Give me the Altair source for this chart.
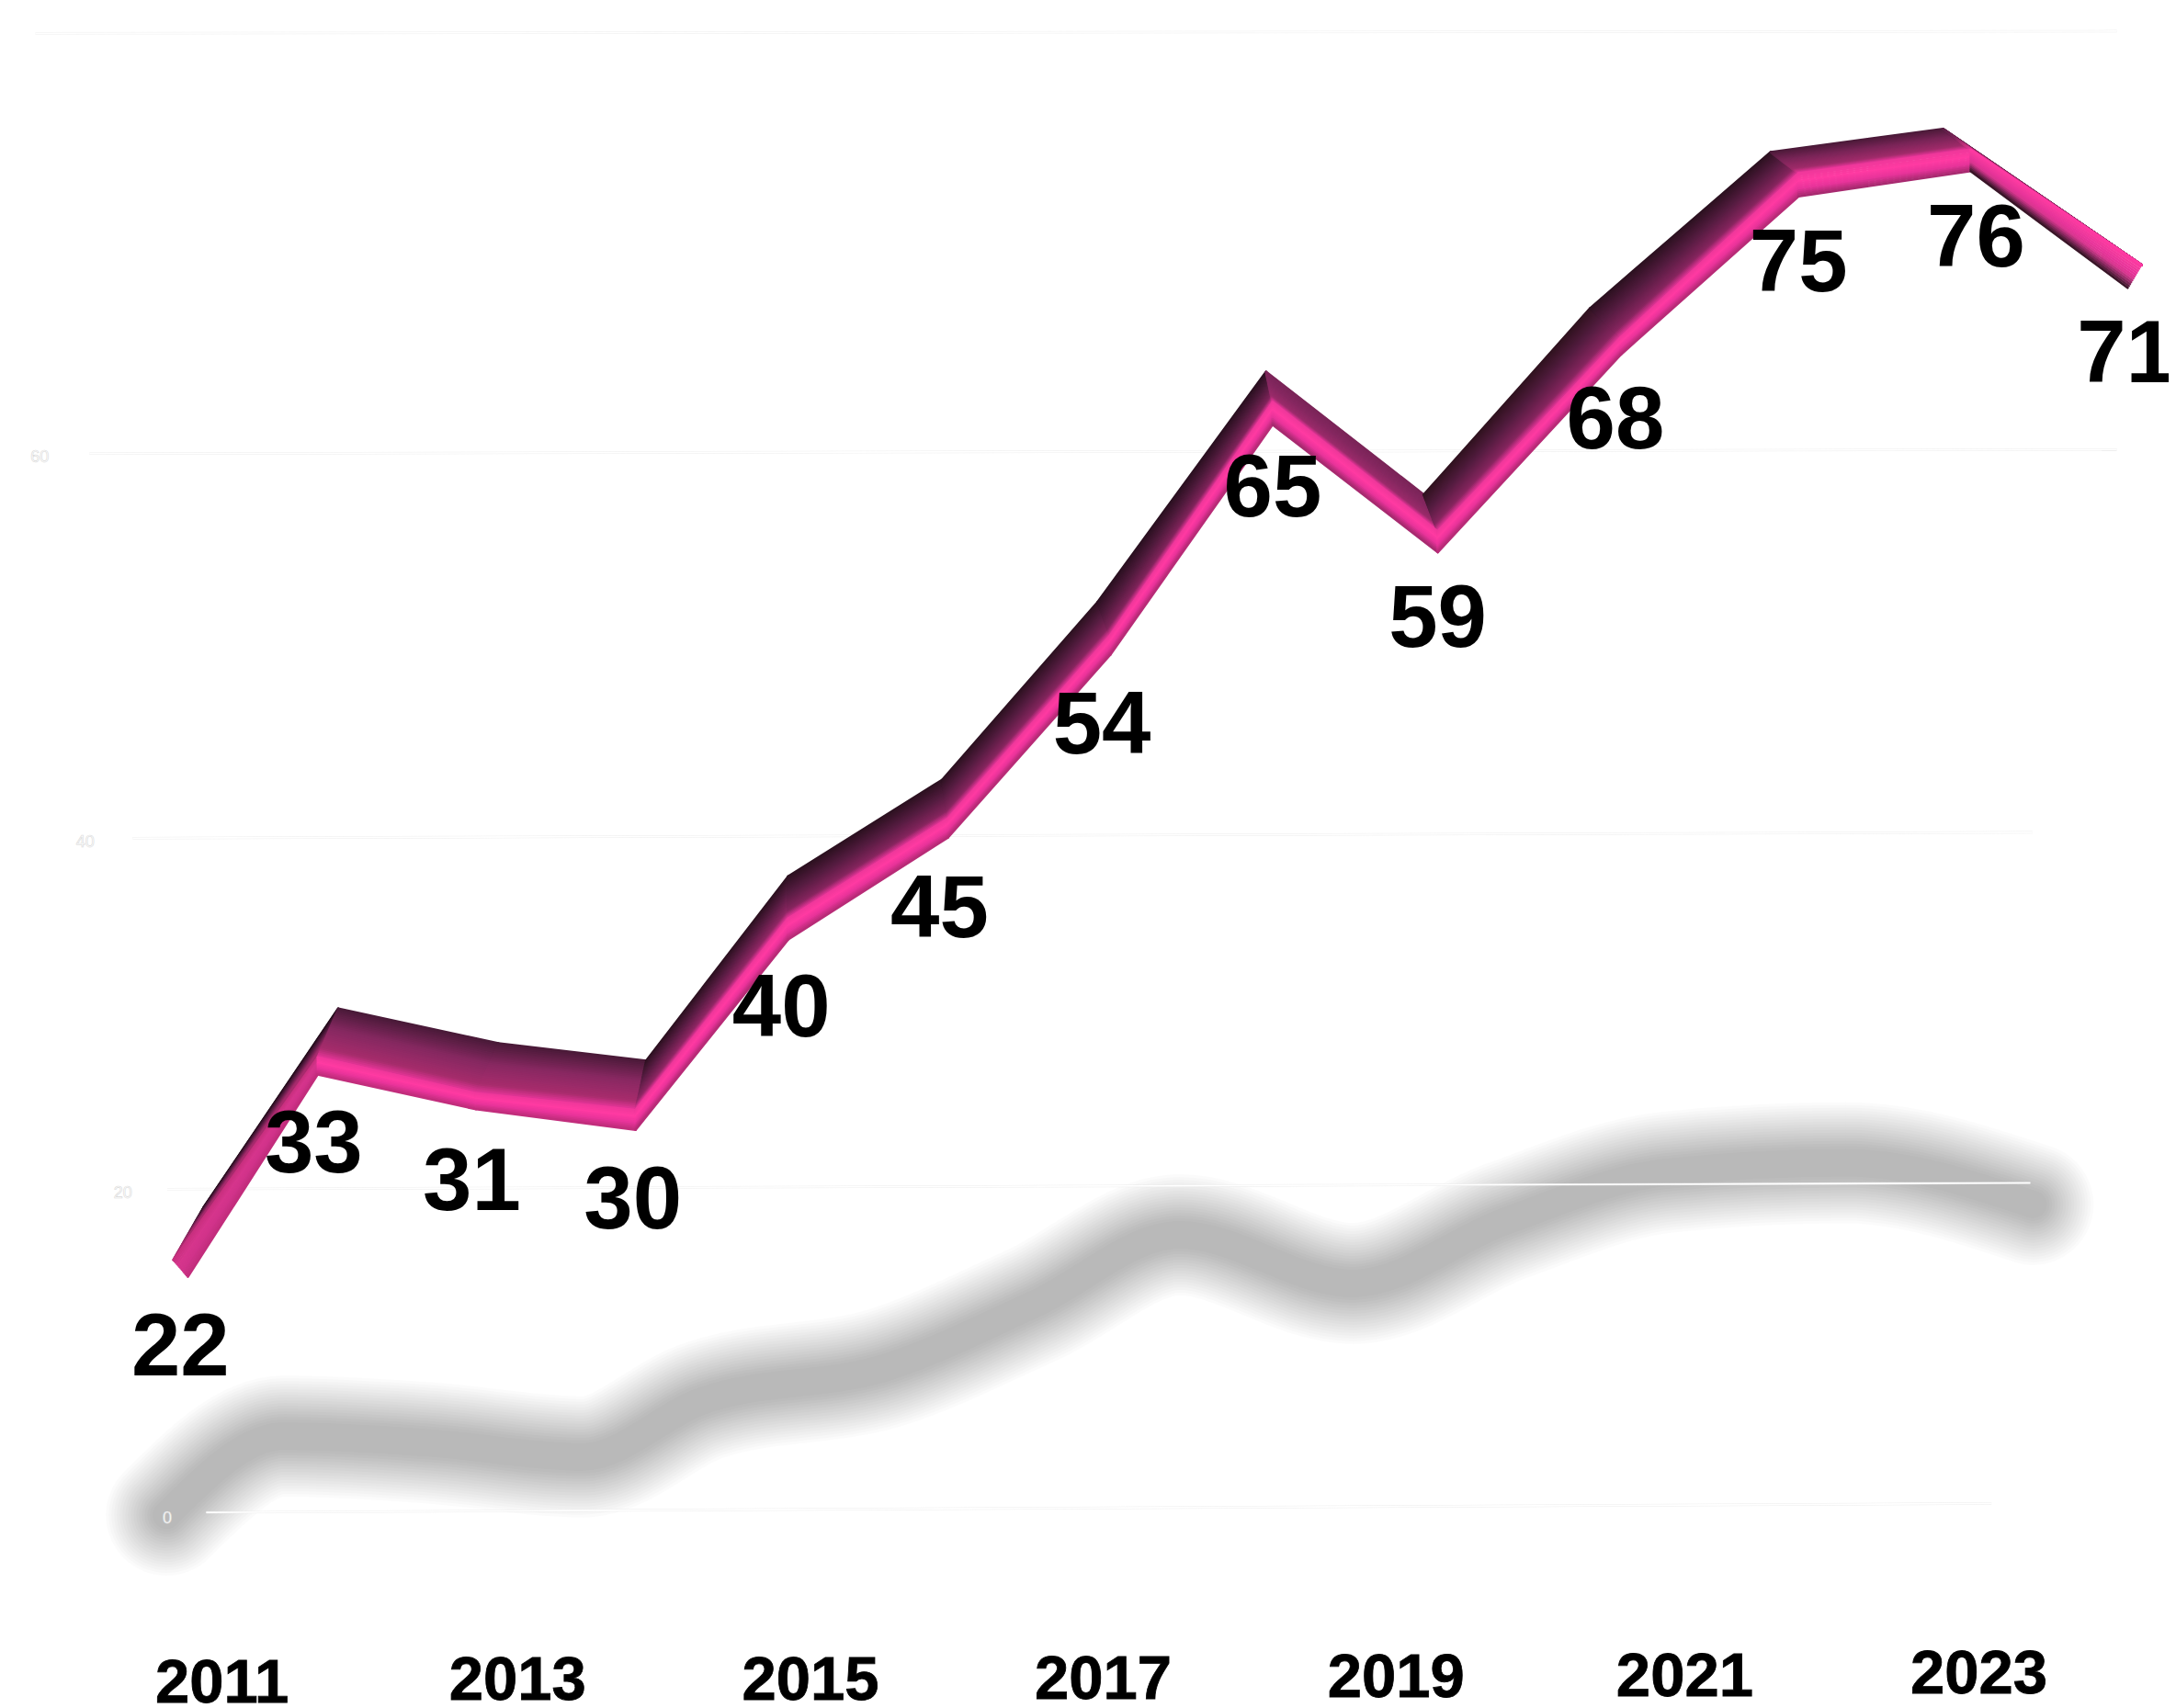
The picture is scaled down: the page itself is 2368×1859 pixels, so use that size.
import altair as alt
import pandas as pd

# ---- what the chart says
years = [2011, 2012, 2013, 2014, 2015, 2016, 2017, 2018, 2019, 2020, 2021, 2022, 2023]
values = [22, 33, 31, 30, 40, 45, 54, 65, 59, 68, 75, 76, 71]
axis_years = [2011, 2013, 2015, 2017, 2019, 2021, 2023]
grid_values = [0, 20, 40, 60, 80]
grid_labels = [0, 20, 40, 60]

# ---- ribbon depth, in data units
back_year = [0.21, 0.13, 0.14, 0.07, 0.0, -0.035, -0.077, -0.04, -0.084, -0.167, -0.156, -0.16, 0.0]
back_value = [2.8, 2.45, 2.7, 2.8, 2.1, 1.9, 1.6, 1.4, 1.7, 1.2, 0.9, 0.88, 0.0]
face_year = [0.1, 0, 0, 0, 0, 0, 0, 0, 0, 0, 0, 0, -0.08]
face_value = [0.9, 0.95, 0.95, 1.05, 1.05, 0.95, 0.95, 1.03, 1.0, 0.8, 1.0, 0.9, 0.95]

# top face colours per segment: back edge, middle, front edge
top_colours = [
    ("#1f0b18", "#5a1d44", "#a82c6e"),
    ("#491a38", "#852860", "#a62c6c"),
    ("#4a1a38", "#882861", "#a82c6d"),
    ("#2c1120", "#5a1d44", "#8f2764"),
    ("#2c1120", "#541c40", "#86255e"),
    ("#2c1120", "#541c40", "#86255e"),
    ("#2a1020", "#4f1b3c", "#7f245a"),
    ("#7a2558", "#852860", "#9a2b6a"),
    ("#30121f", "#541c40", "#86255e"),
    ("#2c1120", "#541c40", "#86255e"),
    ("#4a1a38", "#7a2558", "#a02b6a"),
    ("#5a1d44", "#7a2558", "#c8327f"),
]
edge_glow = "#e8359a"
# front face colours per segment: from its top edge to its bottom edge
front_colours = [
    ("#c8307f", "#d6358c", "#d0328a", "#c22d7c"),
    ("#f0389b", "#ff3aa2", "#e8339a", "#c22d7c"),
    ("#f0389b", "#ff3aa2", "#e8339a", "#c22d7c"),
    ("#f0389b", "#ff3aa2", "#e8339a", "#b82b77"),
    ("#f0389b", "#ff3aa2", "#e8339a", "#b82b77"),
    ("#f0389b", "#ff3aa2", "#e8339a", "#b82b77"),
    ("#f0389b", "#ff3aa2", "#e8339a", "#b82b77"),
    ("#f0389b", "#ff3aa2", "#e8339a", "#a82a70"),
    ("#f0389b", "#ff3aa2", "#e8339a", "#b82b77"),
    ("#f0389b", "#ff3aa2", "#e8339a", "#b82b77"),
    ("#f0389b", "#ff3aa2", "#e8339a", "#a82a70"),
    ("#ff3aa2", "#f2389c", "#e8339a", "#d8358f", "#8a2860", "#3a1528"),
]

# ---- the perspective of the picture, as piecewise scales
S = 2368 / 1568
def px_x(v):
    return [round(a * S - 8, 1) for a in v]
px_y = px_x

W, H = 2352, 1851
ribbon_x = px_x([125, 229, 343, 458, 568, 683, 800, 917, 1036, 1168, 1296, 1420, 1543])
ribbon_dom = sorted(values)
ribbon_y = px_y([908, 800, 788, 762, 662, 590, 458, 383, 290, 243, 191, 125, 108])
label_x = px_x([130, 226, 340, 456, 563, 677, 794, 917, 1036, 1164, 1296, 1424, 1532])
label_y = px_y([972, 866, 853, 826, 728, 656, 524, 447, 353, 304, 256, 191, 173])
shadow_x = px_x([120, 205, 310, 420, 505, 640, 745, 850, 975, 1085, 1200, 1330, 1465])
shadow_y = px_y([1092, 1050, 1040, 1035, 1010, 985, 940, 925, 890, 880, 868, 845, 838])
grid_y = px_y([1090, 857, 604, 327, 24])
grid_from = [9.2, 7.4, 5.8, 3.8, 1.3]
grid_to = [91.8, 93.6, 93.7, 97.6, 97.6]
grid_rise = [0.55, 0.35, 0.3, 0.2, 0.1]
grid_label_pos = [7.4, 5.35, 3.6, 1.5]
grid_label_drop = [-0.42, -0.3, -0.25, -0.2]
shadow_widths = [132, 126, 120, 114, 108, 102, 96, 90, 84, 78, 72, 66, 60, 54, 48, 42, 36, 30]
year_label_x = px_x([160, 373, 584, 795, 1006, 1214, 1426])
year_label_y = px_y([1213.5, 1212, 1212, 1211, 1210, 1209, 1207])


def lerp(a, b, t):
    return a + (b - a) * t


def mix(c1, c2, t):
    p = [int(c1[i:i + 2], 16) for i in (1, 3, 5)]
    q = [int(c2[i:i + 2], 16) for i in (1, 3, 5)]
    return "#%02x%02x%02x" % tuple(round(lerp(a, b, t)) for a, b in zip(p, q))


def ramp(stops, t):
    t = t * (len(stops) - 1)
    i = min(int(t), len(stops) - 2)
    return mix(stops[i], stops[i + 1], t - i)


top_rows, front_rows = [], []
N_TOP, N_FRONT = 30, 12
GLOW_FROM = 0.82
sid = 0
for s in range(len(years) - 1):
    for k in range(N_TOP + 1):
        t = k / N_TOP
        c = ramp(top_colours[s], min(t / GLOW_FROM, 1))
        if t > GLOW_FROM and s > 0:
            c = mix(c, edge_glow, (t - GLOW_FROM) / (1 - GLOW_FROM))
        sid += 1
        for j in (s, s + 1):
            top_rows.append(dict(id=sid, c=c, pt=j,
                                 yr=years[j] + back_year[j] * (1 - t),
                                 val=values[j] + back_value[j] * (1 - t)))
for s in range(len(years) - 1):
    for k in range(N_FRONT + 1):
        t = k / N_FRONT
        c = ramp(front_colours[s], t)
        sid += 1
        for j in (s, s + 1):
            front_rows.append(dict(id=sid, c=c, pt=j,
                                   yr=years[j] + face_year[j] * t,
                                   val=values[j] - face_value[j] * t))

x_ribbon = alt.X("yr:Q", axis=None, scale=alt.Scale(domain=years, range=ribbon_x, nice=False, zero=False))
y_ribbon = alt.Y("val:Q", axis=None, scale=alt.Scale(domain=ribbon_dom, range=ribbon_y, nice=False, zero=False))


def ribbon(rows, width):
    return alt.Chart(pd.DataFrame(rows)).mark_line(strokeWidth=width, strokeCap="round", strokeJoin="round").encode(
        x=x_ribbon, y=y_ribbon, detail="id:N", order="pt:Q",
        color=alt.Color("c:N", scale=None, legend=None))


line_df = pd.DataFrame({"yr": years, "val": values})
shadow_layers = [
    alt.Chart(line_df).mark_line(color="#000000", opacity=0.0155, strokeWidth=w, strokeCap="round",
                                 strokeJoin="round", interpolate="monotone").encode(
        x=alt.X("yr:Q", axis=None, scale=alt.Scale(domain=years, range=shadow_x, nice=False, zero=False)),
        y=alt.Y("val:Q", axis=None, scale=alt.Scale(domain=ribbon_dom, range=shadow_y, nice=False, zero=False)))
    for w in shadow_widths
]

grid_rows = []
for i, g in enumerate(grid_values):
    grid_rows.append(dict(g=g, pct=grid_from[i], val=g))
    grid_rows.append(dict(g=g, pct=grid_to[i], val=g + grid_rise[i]))
grid_df = pd.DataFrame(grid_rows)
x_grid = alt.X("pct:Q", axis=None, scale=alt.Scale(domain=[0, 100], range=[0, W], nice=False, zero=False))
y_grid = alt.Y("val:Q", axis=None, scale=alt.Scale(domain=grid_values, range=grid_y, nice=False, zero=False))
grid_soft = alt.Chart(grid_df).mark_line(color="#e6e6e6", strokeWidth=2.6, opacity=0.7).encode(
    x=x_grid, y=y_grid, detail="g:N")
grid_white = alt.Chart(grid_df).mark_line(color="#ffffff", strokeWidth=1.6).encode(
    x=x_grid, y=y_grid, detail="g:N")
grid_text_df = pd.DataFrame({"pct": grid_label_pos,
                             "val": [g + d for g, d in zip(grid_labels, grid_label_drop)],
                             "t": [str(g) for g in grid_labels]})
grid_text = alt.Chart(grid_text_df).mark_text(font="Liberation Sans", fontSize=18, color="#ffffff",
                                              stroke="#d8d8d8", strokeWidth=0.6, baseline="middle").encode(
    x=x_grid, y=y_grid, text="t:N")

value_labels = alt.Chart(line_df.assign(t=[str(v) for v in values])).mark_text(
    font="Liberation Sans", fontWeight="bold", fontSize=96, color="#000000", baseline="middle").encode(
    x=alt.X("yr:Q", axis=None, scale=alt.Scale(domain=years, range=label_x, nice=False, zero=False)),
    y=alt.Y("val:Q", axis=None, scale=alt.Scale(domain=ribbon_dom, range=label_y, nice=False, zero=False)),
    text="t:N")

year_labels = alt.Chart(pd.DataFrame({"yr": axis_years, "t": [str(y) for y in axis_years]})).mark_text(
    font="Liberation Sans", fontWeight="bold", fontSize=67, color="#000000", stroke="#000000", strokeWidth=0.8,
    baseline="middle").encode(
    x=alt.X("yr:Q", axis=None, scale=alt.Scale(domain=axis_years, range=year_label_x, nice=False, zero=False)),
    y=alt.Y("yr:Q", axis=None, scale=alt.Scale(domain=axis_years, range=year_label_y, nice=False, zero=False)),
    text="t:N")

chart = alt.layer(
    *shadow_layers, grid_soft, grid_white, grid_text,
    ribbon(top_rows, 3), ribbon(front_rows, 2.6),
    value_labels, year_labels,
).resolve_scale(x="independent", y="independent").properties(
    width=W, height=H, padding=0, autosize=alt.AutoSizeParams(type="none"),
    background="#ffffff",
).configure_view(stroke=None)

chart.save("out.html", embed_options={"renderer": "svg", "actions": False})
